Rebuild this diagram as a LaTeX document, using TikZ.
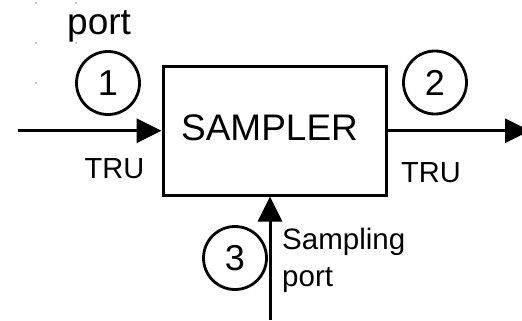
\documentclass[tikz,border=0pt]{standalone}
\usepackage{fontspec}
\setmainfont{Liberation Sans}
\usetikzlibrary{arrows.meta}

\tikzset{
  blockbox/.style={draw, line width=3pt, minimum width=223.7pt, minimum height=128.5pt, inner sep=0pt},
  portnum/.style={draw, circle, line width=2.8pt, minimum size=63pt, inner sep=0pt,
                  font=\fontsize{36}{40}\selectfont},
  flow/.style={line width=3pt, -{Triangle[length=25pt, width=24pt]}},
  bigtext/.style={inner sep=0pt, font=\fontsize{37}{44}\selectfont},
  smalltext/.style={inner sep=0pt, font=\fontsize{29}{35}\selectfont},
  sidetext/.style={inner sep=0pt, align=left, font=\fontsize{29.5}{37}\selectfont},
  griddot/.style={fill=gray!55, draw=none}
}

\begin{document}
\begin{tikzpicture}[x=1pt, y=-1pt]
  \useasboundingbox (0,0) rectangle (522,321);

  % faint grid dots in the upper left corner
  \foreach \gx/\gy in {36/3, 76/3, 36/43, 76/43, 36/83}
    \fill[griddot] (\gx,\gy) circle (1.1pt);

  % the sampler block
  \node[blockbox] (box) at (274.85,130.75) {};
  \node[bigtext, anchor=base] (lbl) at (269.5,140) {SAMPLER};

  % port numbers
  \node[portnum] (p1) at (108,83) {1};
  \node[portnum] (p2) at (435,82.5) {2};
  \node[portnum] (p3) at (235,258) {3};

  % flow ends
  \coordinate (inA) at (18,130.75);
  \coordinate (outB) at (530,130.75);
  \coordinate (smp) at (270,320);

  % connectors
  \draw[flow] (inA) -- (box.west);
  \draw[flow] (box.east) -- (outB);
  \draw[flow] (smp) -- (smp |- box.south);

  % labels
  \node[bigtext, anchor=base west] (topport) at (67,35) {port};
  \node[smalltext, anchor=base] (tru1) at (114.5,178.3) {TRU};
  \node[smalltext, anchor=base] (tru2) at (431,182) {TRU};
  \node[sidetext, anchor=base west] (samp) at (282,286) {Sampling\\port};
\end{tikzpicture}
\end{document}
